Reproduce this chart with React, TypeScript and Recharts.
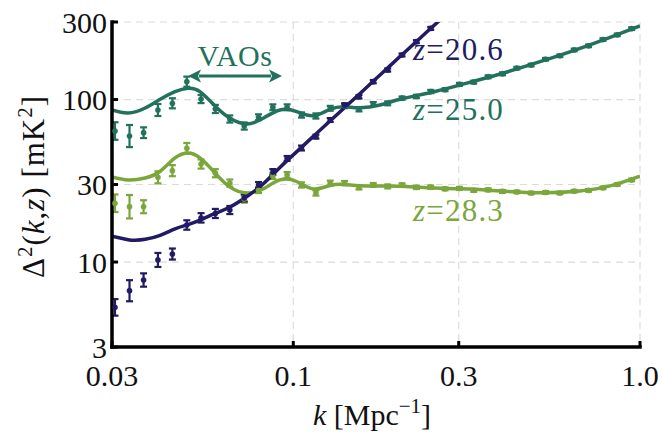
import React from 'react';
import {
  ComposedChart,
  Line,
  XAxis,
  YAxis,
  CartesianGrid,
  ErrorBar,
  ReferenceDot,
  ReferenceLine,
} from 'recharts';

const NAVY = '#221b63';
const TEAL = '#22715d';
const GREEN = '#7aa63b';
const SERIF = 'Liberation Serif';

// axis ticks
const xTicks = [0.03, 0.1, 0.3, 1.0];
const xTickLabels = ['0.03', '0.1', '0.3', '1.0'];
const yTicks = [3, 10, 30, 100, 300];
const yTickLabels = ['3', '10', '30', '100', '300'];

// model curves, k in Mpc^-1, Δ² in mK²
const modelK = [
  0.03, 0.0334, 0.0374, 0.0413, 0.0456, 0.0497, 0.0538, 0.0595, 0.0657, 0.0735, 0.0818, 0.0915, 0.1018,
  0.114, 0.1276, 0.141, 0.1558, 0.1779, 0.2031, 0.248, 0.3026, 0.3947, 0.5148, 0.6715, 0.8197, 1.0,
];
const model250 = [
  86.2, 82.6, 88.7, 100.3, 111.8, 117.2, 111.8, 91.2, 76.6, 70.7, 76.6, 86.2, 84.6,
  79.4, 87.0, 90.2, 89.0, 92.5, 100.3, 110.2, 122.9, 143.6, 171.0, 206.7, 241.5, 283.5,
];
const model283 = [
  33.4, 32.0, 32.9, 36.2, 43.7, 46.9, 43.7, 35.3, 28.9, 26.6, 28.2, 32.0, 31.4,
  28.2, 29.6, 30.0, 29.5, 29.4, 29.3, 28.6, 28.2, 27.4, 26.7, 27.4, 29.4, 33.8,
];
const model206K = [
  0.03, 0.0334, 0.035, 0.0374, 0.0413, 0.0456, 0.0497, 0.0538, 0.0595, 0.0657, 0.0735, 0.0818,
  0.0915, 0.1018, 0.114, 0.1276, 0.141, 0.1558, 0.1779, 0.2031, 0.232, 0.2597, 0.3026,
];
const model206 = [
  14.4, 13.7, 13.6, 13.8, 14.6, 16.0, 17.0, 18.1, 19.9, 21.8, 25.3, 30.2,
  38.2, 47.3, 59.1, 73.8, 89.7, 109.0, 141.6, 183.8, 238.5, 297.0, 402.0,
];

// binned measurements
const binK = [
  0.0306, 0.0337, 0.037, 0.0407, 0.0448, 0.0493, 0.0542, 0.0596, 0.0656, 0.0722, 0.0794, 0.0873,
  0.096, 0.1056, 0.1162, 0.1278, 0.1406, 0.1547, 0.1701, 0.1872, 0.2059, 0.2265, 0.2491, 0.274,
  0.3014, 0.3315, 0.3647, 0.4012, 0.4413, 0.4854, 0.534, 0.5874, 0.6461, 0.7107, 0.7818, 0.8599, 0.9459,
];
const meas206 = [
  5.26, 6.66, 7.75, 10.3, 11.2, 16.9, 18.7, 19.9, 20.9, 24.8, 29.8, 35.8,
  43.4, 50.3, 59.1, 74.8, 92.5, 104, 128.8, 152, 188, 227, 274,
];
const meas250 = [
  64.0, 59.6, 62.5, 86.2, 94.8, 128.8, 100.7, 87.5, 75.9, 68.7, 77.8, 89.6,
  89.6, 80.3, 79.2, 88.3, 91.2, 87.1, 93.8, 94.8, 102, 104.5, 112, 115,
  124, 128, 138, 144, 156, 163, 177, 186, 202, 214, 234, 250, 273,
];
const meas283 = [
  23.0, 21.9, 21.9, 33.2, 36.5, 50.1, 40.1, 35.2, 30.6, 24.4, 27.7, 33.8,
  34.3, 29.8, 26.6, 30.6, 30.6, 28.8, 29.8, 29.2, 29.8, 28.8, 28.9, 28.2,
  28.4, 27.6, 27.8, 27.2, 27.0, 26.6, 26.8, 26.6, 27.3, 27.6, 28.6, 30.0, 32.0,
];
// 1-sigma errors, in dex
const err206 = [
  0.051, 0.065, 0.041, 0.043, 0.034, 0.029, 0.029, 0.028, 0.025, 0.022, 0.018, 0.018,
  0.015, 0.015, 0.012, 0.012, 0.011, 0.011, 0.01, 0.01, 0.009, 0.009, 0.009,
];
const err250 = [
  0.054, 0.068, 0.033, 0.037, 0.031, 0.031, 0.025, 0.025, 0.022, 0.022, 0.018, 0.018,
  0.018, 0.016, 0.016, 0.015, 0.013, 0.013, 0.012, 0.012, 0.01, 0.01, 0.01, 0.009,
  0.009, 0.009, 0.009, 0.009, 0.008, 0.008, 0.008, 0.008, 0.008, 0.008, 0.008, 0.008, 0.008,
];
const err283 = [
  0.054, 0.072, 0.04, 0.037, 0.034, 0.033, 0.028, 0.025, 0.022, 0.022, 0.018, 0.018,
  0.018, 0.016, 0.016, 0.015, 0.013, 0.013, 0.012, 0.012, 0.01, 0.01, 0.01, 0.009,
  0.009, 0.009, 0.009, 0.009, 0.008, 0.008, 0.008, 0.008, 0.008, 0.008, 0.008, 0.008, 0.008,
];

const toCurve = (ks: number[], vs: number[]) => ks.map((k, i) => ({ k, v: vs[i] }));
const toPoints = (vs: number[], errs: number[]) =>
  vs.map((v, i) => ({
    k: binK[i],
    v,
    err: [v - v / 10 ** errs[i], v * 10 ** errs[i] - v],
  }));

const frame = { stroke: '#000', strokeWidth: 3.5, strokeLinecap: 'square' as const };

const XTick = ({ x, y, payload }: any) => (
  <g>
    <line x1={x} y1={y} x2={x} y2={y - 6} stroke="#000" strokeWidth={3} />
    <text x={x} y={y + 39} textAnchor="middle" fontFamily={SERIF} fontSize={30} fill="#111">
      {xTickLabels[xTicks.indexOf(payload.value)]}
    </text>
  </g>
);
const XTickTop = ({ x, y }: any) => <line x1={x} y1={y} x2={x} y2={y + 6} stroke="#000" strokeWidth={3} />;
const YTick = ({ x, y, payload }: any) => (
  <g>
    <line x1={x} y1={y} x2={x + 6} y2={y} stroke="#000" strokeWidth={3} />
    <text x={x - 5} y={y + 10.5} textAnchor="end" fontFamily={SERIF} fontSize={30} fill="#111">
      {yTickLabels[yTicks.indexOf(payload.value)]}
    </text>
  </g>
);
const YTickRight = ({ x, y }: any) => <line x1={x} y1={y} x2={x - 6} y2={y} stroke="#000" strokeWidth={3} />;

const XLabel = ({ viewBox }: any) => (
  <text x={viewBox.x + viewBox.width / 2 - 4} y={viewBox.y + 78} textAnchor="middle" fontFamily={SERIF} fontSize={30} fill="#111">
    <tspan fontStyle="italic">k</tspan>
    <tspan> [Mpc</tspan>
    <tspan dy={-12} fontSize={21}>−1</tspan>
    <tspan dy={12}>]</tspan>
  </text>
);

const YLabel = ({ viewBox }: any) => {
  const cx = 44;
  const cy = viewBox.y + viewBox.height / 2 + 2;
  return (
    <text x={cx} y={cy} transform={`rotate(-90, ${cx}, ${cy})`} textAnchor="middle" fontFamily={SERIF} fontSize={31} letterSpacing={1} fill="#111">
      <tspan>Δ</tspan>
      <tspan dy={-12} fontSize={21}>2</tspan>
      <tspan dy={12}>(</tspan>
      <tspan fontStyle="italic">k</tspan>
      <tspan>,</tspan>
      <tspan fontStyle="italic">z</tspan>
      <tspan>) [mK</tspan>
      <tspan dy={-12} fontSize={21}>2</tspan>
      <tspan dy={12}>]</tspan>
    </text>
  );
};

const ZLabel = ({ viewBox, text, color }: any) => (
  <text x={viewBox.x} y={viewBox.y} fill={color} fontFamily={SERIF} fontSize={31} letterSpacing={1.2}>
    <tspan fontStyle="italic">z</tspan>
    <tspan>={text}</tspan>
  </text>
);

const VaoLabel = ({ viewBox }: any) => (
  <text x={viewBox.x} y={viewBox.y} fill={TEAL} fontFamily={SERIF} fontSize={30} textAnchor="middle" letterSpacing={0.5}>
    VAOs
  </text>
);

const Arrow = (p: any) => {
  const { x1, y1, x2, y2 } = p;
  const h = 13;
  const w = 6.5;
  return (
    <g>
      <line x1={x1 + h - 2} y1={y1} x2={x2 - h + 2} y2={y2} stroke={TEAL} strokeWidth={3} />
      <path d={`M${x1},${y1} L${x1 + h},${y1 - w} L${x1 + h - 3},${y1} L${x1 + h},${y1 + w} Z`} fill={TEAL} />
      <path d={`M${x2},${y2} L${x2 - h},${y2 - w} L${x2 - h + 3},${y2} L${x2 - h},${y2 + w} Z`} fill={TEAL} />
    </g>
  );
};

export default function App() {
  const c206 = toCurve(model206K, model206);
  const c250 = toCurve(modelK, model250);
  const c283 = toCurve(modelK, model283);
  const p206 = toPoints(meas206, err206);
  const p250 = toPoints(meas250, err250);
  const p283 = toPoints(meas283, err283);

  const series = [
    { pts: p283, color: GREEN },
    { pts: p250, color: TEAL },
    { pts: p206, color: NAVY },
  ];

  return (
    <div style={{ position: 'absolute', left: 0, top: 0, width: 662, height: 436, background: '#fff' }}>
      <ComposedChart width={662} height={436} margin={{ top: 22, right: 22, bottom: 0, left: 0 }}>
        <CartesianGrid strokeDasharray="7 5" stroke="#dcdcdc" strokeWidth={1.2} />
        <XAxis
          dataKey="k"
          type="number"
          scale="log"
          domain={[0.03, 1]}
          ticks={xTicks}
          allowDataOverflow
          interval={0}
          height={89}
          tickSize={0}
          tickMargin={0}
          tickLine={false}
          tick={<XTick />}
          axisLine={frame}
          label={<XLabel />}
        />
        <XAxis
          xAxisId="top"
          orientation="top"
          dataKey="k"
          type="number"
          scale="log"
          domain={[0.03, 1]}
          ticks={xTicks}
          allowDataOverflow
          interval={0}
          height={0}
          tickSize={0}
          tickMargin={0}
          tickLine={false}
          tick={<XTickTop />}
          axisLine={frame}
        />
        <YAxis
          type="number"
          scale="log"
          domain={[3, 300]}
          ticks={yTicks}
          allowDataOverflow
          interval={0}
          width={112}
          tickSize={0}
          tickMargin={0}
          tickLine={false}
          tick={<YTick />}
          axisLine={frame}
          label={<YLabel />}
        />
        <YAxis
          yAxisId="right"
          orientation="right"
          type="number"
          scale="log"
          domain={[3, 300]}
          ticks={yTicks}
          allowDataOverflow
          interval={0}
          width={0}
          tickSize={0}
          tickMargin={0}
          tickLine={false}
          tick={<YTickRight />}
          axisLine={frame}
        />

        {series.map((s, i) => (
          <Line
            key={`pts-${i}`}
            data={s.pts}
            dataKey="v"
            stroke="none"
            dot={{ r: 2.6, fill: s.color, stroke: s.color, strokeWidth: 0.5 }}
            activeDot={false}
            isAnimationActive={false}
          >
            <ErrorBar dataKey="err" direction="y" width={3.5} strokeWidth={2.2} stroke={s.color} />
          </Line>
        ))}

        <Line data={c283} dataKey="v" type="natural" stroke={GREEN} strokeWidth={3.5} dot={false} activeDot={false} isAnimationActive={false} />
        <Line data={c250} dataKey="v" type="natural" stroke={TEAL} strokeWidth={3.5} dot={false} activeDot={false} isAnimationActive={false} />
        <Line data={c206} dataKey="v" type="natural" stroke={NAVY} strokeWidth={3.5} dot={false} activeDot={false} isAnimationActive={false} />

        <ReferenceLine segment={[{ x: 0.0497, y: 139.6 }, { x: 0.0928, y: 139.6 }]} shape={Arrow} />
        <ReferenceDot x={0.0679} y={159.7} r={0} fill="none" stroke="none" label={<VaoLabel />} />
        <ReferenceDot x={0.2215} y={175} r={0} fill="none" stroke="none" label={<ZLabel text="20.6" color={NAVY} />} />
        <ReferenceDot x={0.2215} y={74.8} r={0} fill="none" stroke="none" label={<ZLabel text="25.0" color={TEAL} />} />
        <ReferenceDot x={0.2215} y={17.9} r={0} fill="none" stroke="none" label={<ZLabel text="28.3" color={GREEN} />} />
      </ComposedChart>
    </div>
  );
}
